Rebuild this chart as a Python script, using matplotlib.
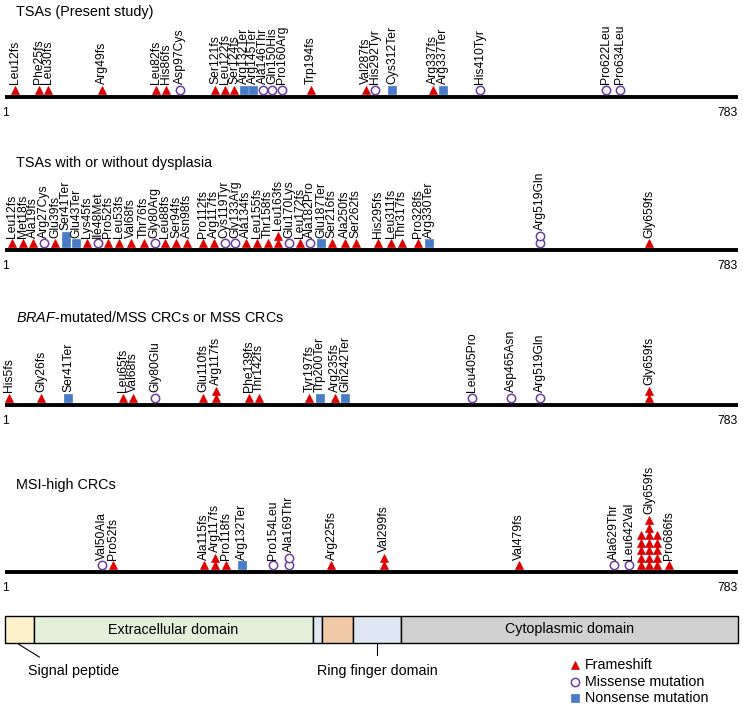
import re
import numpy as np
import matplotlib
matplotlib.use("Agg")
import matplotlib.pyplot as plt
from matplotlib.patches import Rectangle

plt.rcParams['font.family'] = ['Liberation Sans', 'DejaVu Sans']
plt.rcParams['mathtext.fontset'] = 'custom'
plt.rcParams['mathtext.it'] = 'Liberation Sans:italic'
plt.rcParams['mathtext.rm'] = 'Liberation Sans'

PROTEIN_LEN = 783

# ---- mutations per cohort (residue number and type come from the HGVS-like label)
tsa_present = ['Leu12fs', 'Phe25fs', 'Leu30fs', 'Arg49fs', 'Leu82fs', 'His86fs', 'Asp97Cys',
               'Ser121fs', 'Leu122fs', 'Ser124fs', 'Arg132Ter', 'Arg145Ter', 'Ala146Thr',
               'Gln150His', 'Pro160Arg', 'Trp194fs', 'Val287fs', 'His292Tyr', 'Cys312Ter',
               'Arg337fs', 'Arg337Ter', 'His410Tyr', 'Pro622Leu', 'Pro634Leu']
tsa_present_n = {}

tsa_dysplasia = ['Leu12fs', 'Met18fs', 'Ala19fs', 'Arg27Cys', 'Glu39fs', 'Ser41Ter', 'Glu43Ter',
                 'Lys45fs', 'Ile48Met', 'Pro52fs', 'Leu53fs', 'Val68fs', 'Thr76fs', 'Gly80Arg',
                 'Leu88fs', 'Ser94fs', 'Asn98fs', 'Pro112fs', 'Arg117fs', 'Cys119Tyr',
                 'Gly133Arg', 'Ala134fs', 'Leu155fs', 'Thr158fs', 'Leu163fs', 'Glu170Lys',
                 'Leu172fs', 'Ala182Pro', 'Glu187Ter', 'Ser216fs', 'Ala250fs', 'Ser262fs',
                 'His295fs', 'Leu311fs', 'Thr317fs', 'Pro328fs', 'Arg330Ter', 'Arg519Gln',
                 'Gly659fs']
tsa_dysplasia_n = {'Ser41Ter': 2, 'Leu163fs': 2, 'Arg519Gln': 2}

mss_crc = ['His5fs', 'Gly26fs', 'Ser41Ter', 'Leu65fs', 'Val68fs', 'Gly80Glu', 'Glu110fs',
           'Arg117fs', 'Phe139fs', 'Thr142fs', 'Tyr197fs', 'Trp200Ter', 'Arg235fs',
           'Gln242Ter', 'Leu405Pro', 'Asp465Asn', 'Arg519Gln', 'Gly659fs']
mss_crc_n = {'Arg117fs': 2, 'Gly659fs': 2}

msi_crc = ['Val50Ala', 'Pro52fs', 'Ala115fs', 'Arg117fs', 'Pro118fs', 'Arg132Ter', 'Pro154Leu',
           'Ala169Thr', 'Arg225fs', 'Val299fs', 'Val479fs', 'Ala629Thr', 'Leu642Val',
           'Gly659fs', 'Pro686fs']
msi_crc_n = {'Arg117fs': 2, 'Ala169Thr': 2, 'Val299fs': 2, 'Gly659fs': 17}

panel_titles = ['TSAs (Present study)', 'TSAs with or without dysplasia',
                r'$\it{BRAF}$-mutated/MSS CRCs or MSS CRCs', 'MSI-high CRCs']

# domains (start, end, colour, label)
domain_start = [1, 22, 197, 210, 261, 317]
domain_end = [22, 197, 210, 261, 317, 783]
domain_color = ['#fdf1cb', '#e3efd9', '#dfe7f3', '#f0c9a6', '#dfe7f3', '#d0d0d0']
domain_label = ['', 'Extracellular domain', '', '', '', 'Cytoplasmic domain']

# ---- schematic (non-linear) residue axis, as in the original drawing
RES_ANCHOR = [-60, 1, 12, 26, 41, 50, 65, 80, 97, 117, 132, 160, 200, 242, 290, 300, 312,
              337, 405, 410, 465, 519, 622, 659, 686, 783, 900]
PX_ANCHOR = [-50, 5, 15, 41, 68, 106, 125, 155, 180, 216, 242, 281, 316, 342, 370, 386, 392,
             438, 472, 480, 511, 540, 606, 649, 669, 738, 820]


def fwd(x):
    return np.interp(x, RES_ANCHOR, PX_ANCHOR)


def inv(p):
    return np.interp(p, PX_ANCHOR, RES_ANCHOR)


RED = '#dd0000'
PURPLE = '#6a3ea1'
BLUE = '#4a7bc8'
STYLE = {
    'fs': dict(marker='^', ms=6.0, mfc=RED, mec=RED, mew=0.5),
    'mis': dict(marker='o', ms=6.0, mfc='white', mec=PURPLE, mew=1.1),
    'ter': dict(marker='s', ms=5.2, mfc=BLUE, mec=BLUE, mew=0.5),
}


def kind_of(label):
    if label.endswith('fs'):
        return 'fs'
    if label.endswith('Ter'):
        return 'ter'
    return 'mis'


def columns(count):
    if count <= 7:
        return [count]
    side = (count - 6) // 2
    return [side, count - 2 * side, side]


def dodge(centers, half, gap, left=9):
    clusters = [[i] for i in range(len(centers))]

    def place(cl):
        rel = [0.0]
        for a, b in zip(cl, cl[1:]):
            rel.append(rel[-1] + half[a] + half[b] + gap)
        rel = np.array(rel)
        shift = np.mean([centers[i] for i in cl] - rel)
        return rel + shift

    changed = True
    while changed:
        changed = False
        pos = [place(cl) for cl in clusters]
        for k in range(len(clusters) - 1):
            a, b = clusters[k][-1], clusters[k + 1][0]
            if pos[k + 1][0] - pos[k][-1] < half[a] + half[b] + gap - 1e-6:
                clusters[k] = clusters[k] + clusters[k + 1]
                del clusters[k + 1]
                changed = True
                break
    out = np.zeros(len(centers))
    for cl in clusters:
        p = place(cl)
        if p[0] - half[cl[0]] < left:
            p = p + (left - p[0] + half[cl[0]])
        out[cl] = p
    return out


fig = plt.figure(figsize=(7.43, 7.06), dpi=100)
ax = fig.add_axes([0, 0, 1, 1])
ax.set_xscale('function', functions=(fwd, inv))
ax.set_xlim(float(inv(0)), float(inv(743)))
ax.set_ylim(706, 0)
ax.axis('off')

panels = [(tsa_present, tsa_present_n), (tsa_dysplasia, tsa_dysplasia_n),
          (mss_crc, mss_crc_n), (msi_crc, msi_crc_n)]
baselines = [97, 250, 405, 572]
title_y = [12, 163, 318, 485]
gaps = [9.5, 10.7, 10.5, 11.0]
col_step = 8.0
row_step = 7.5
lab_fs = 8.7

for p, (labels, counts) in enumerate(panels):
    base = baselines[p]
    order = sorted(range(len(labels)), key=lambda i: int(re.search(r'\d+', labels[i]).group()))
    labs = [labels[i] for i in order]
    res = np.array([int(re.search(r'\d+', l).group()) for l in labs])
    cols = [columns(counts.get(l, 1)) for l in labs]
    half = [(len(c) - 1) * col_step / 2 for c in cols]
    xs = dodge(fwd(res), half, gaps[p])

    ax.plot([1, PROTEIN_LEN], [base, base], color='black', lw=2.8, solid_capstyle='butt')
    ax.text(1, base + 16, '1', fontsize=lab_fs, ha='center', va='center')
    ax.text(PROTEIN_LEN, base + 16, str(PROTEIN_LEN), fontsize=lab_fs, ha='right', va='center')
    ax.text(16 / 743, title_y[p], panel_titles[p], transform=ax.get_yaxis_transform(),
            fontsize=10.4, ha='left', va='center')

    for lab, x, c in zip(labs, xs, cols):
        st = STYLE[kind_of(lab)]
        for j, nrow in enumerate(c):
            cx = x + (j - (len(c) - 1) / 2) * col_step
            ys = base - 7 - row_step * np.arange(nrow)
            ax.plot(np.full(nrow, inv(cx)), ys, ls='none', **st)
        top = base - 7 - row_step * (max(c) - 1)
        ax.text(inv(x), top - 5.5, lab, rotation=90, fontsize=lab_fs, ha='center', va='bottom')

# ---- domain bar
bar_top, bar_h = 616, 27
for a, b, col, lab in zip(domain_start, domain_end, domain_color, domain_label):
    ax.add_patch(Rectangle((a, bar_top), b - a, bar_h, facecolor=col, edgecolor='black', lw=1.0))
    if lab:
        cx = inv((fwd(a) + fwd(b)) / 2)
        ax.text(cx, bar_top + bar_h / 2, lab, fontsize=10.3, ha='center', va='center')

sig_c = (fwd(domain_start[0]) + fwd(domain_end[0])) / 2
ax.plot([inv(sig_c - 1), inv(sig_c + 20)], [bar_top + bar_h + 1, bar_top + bar_h + 14],
        color='black', lw=0.8)
ax.text(inv(28), 671, 'Signal peptide', fontsize=10.3, ha='left', va='center')

ring_c = (fwd(domain_start[4]) + fwd(domain_end[4])) / 2
ax.plot([inv(ring_c), inv(ring_c)], [bar_top + bar_h, bar_top + bar_h + 12], color='black', lw=0.8)
ax.text(inv(317), 671, 'Ring finger domain', fontsize=10.3, ha='left', va='center')

# ---- legend
leg_names = ['Frameshift', 'Missense mutation', 'Nonsense mutation']
for k, (kind, name) in enumerate(zip(['fs', 'mis', 'ter'], leg_names)):
    y = 665 + 16.5 * k
    ax.plot([inv(575)], [y], ls='none', **STYLE[kind])
    ax.text(inv(585), y, name, fontsize=10.3, ha='left', va='center')

fig.savefig('out.png', dpi=100)
